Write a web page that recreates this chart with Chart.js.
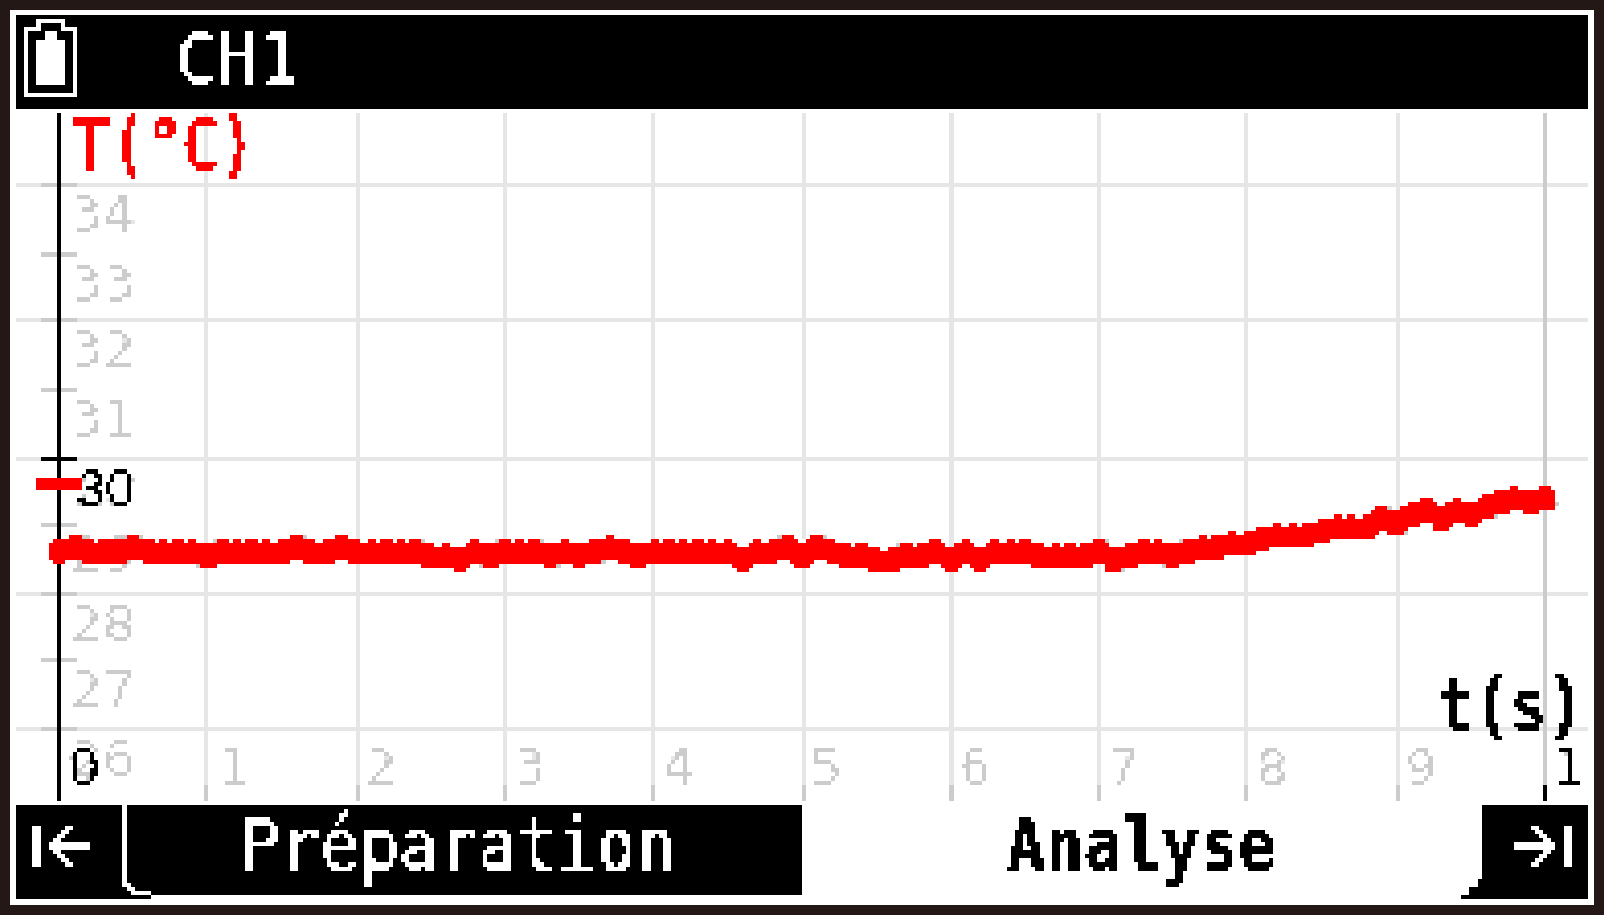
<!DOCTYPE html>
<html><head><meta charset="utf-8">
<style>
html,body{margin:0;padding:0;background:#231815;overflow:hidden;width:1604px;height:915px}
#frame{position:absolute;left:10px;top:10px;width:1584px;height:895px;background:#fff}
#c{position:absolute;left:16px;top:15px;transform-origin:0 0;transform:scale(4.094);image-rendering:pixelated}
</style>
<script src="https://cdn.jsdelivr.net/npm/chart.js@4"></script>
</head><body>
<div id="frame"></div>
<canvas id="c" width="384" height="216"></canvas>
<script>
const times=[0,0.1,0.2,0.3,0.4,0.5,0.6,0.7,0.8,0.9,1,1.1,1.2,1.3,1.4,1.5,1.6,1.7,1.8,1.9,2,2.1,2.2,2.3,2.4,2.5,2.6,2.7,2.8,2.9,3,3.1,3.2,3.3,3.4,3.5,3.6,3.7,3.8,3.9,4,4.1,4.2,4.3,4.4,4.5,4.6,4.7,4.8,4.9,5,5.1,5.2,5.3,5.4,5.5,5.6,5.7,5.8,5.9,6,6.1,6.2,6.3,6.4,6.5,6.6,6.7,6.8,6.9,7,7.1,7.2,7.3,7.4,7.5,7.6,7.7,7.8,7.9,8,8.1,8.2,8.3,8.4,8.5,8.6,8.7,8.8,8.9,9,9.1,9.2,9.3,9.4,9.5,9.6,9.7,9.8,9.9,10];
const temps=[28.61,28.67,28.61,28.61,28.61,28.67,28.61,28.61,28.61,28.61,28.55,28.61,28.61,28.61,28.61,28.61,28.67,28.61,28.61,28.67,28.61,28.61,28.61,28.61,28.61,28.55,28.55,28.49,28.61,28.55,28.61,28.61,28.61,28.55,28.61,28.55,28.61,28.67,28.61,28.55,28.61,28.61,28.61,28.61,28.61,28.61,28.49,28.61,28.61,28.67,28.55,28.67,28.61,28.55,28.55,28.49,28.49,28.55,28.55,28.61,28.49,28.61,28.49,28.61,28.61,28.61,28.55,28.55,28.55,28.55,28.61,28.49,28.55,28.61,28.61,28.55,28.61,28.67,28.67,28.73,28.73,28.79,28.85,28.85,28.85,28.91,28.97,28.97,28.97,29.09,29.03,29.15,29.21,29.09,29.21,29.15,29.27,29.33,29.39,29.33,29.39];
const xTickValues=[0,1,2,3,4,5,6,7,8,9,10];
const xTickLabels=['0','1','2','3','4','5','6','7','8','9','1'];
const yTickValues=[34,33,32,31,30,29,28,27,26];
const thresholdValue=29.63;
const yAxisTitle='T(°C)', xAxisTitle='t(s)', channelName='CH1', tabLeft='Préparation', tabRight='Analyse';

const MONO='"DejaVu Sans Mono"';
function px(ctx,color,rects){ctx.fillStyle=color;rects.forEach(r=>ctx.fillRect(r[0],r[1],r[2],r[3]));}
function pixelText(ctx,text,x,y,font,color,sx,cut){
  const o=document.createElement('canvas');o.width=384;o.height=216;
  const g=o.getContext('2d',{willReadFrequently:true});
  g.font=font;g.textBaseline='alphabetic';g.translate(x,y);g.scale(sx,1);g.fillStyle='#000';g.fillText(text,0,0);
  const d=g.getImageData(0,0,384,216),a=d.data;
  const h=color.replace('#','');const R=parseInt(h.slice(0,2),16),G=parseInt(h.slice(2,4),16),B=parseInt(h.slice(4,6),16);
  for(let i=0;i<a.length;i+=4){if(a[i+3]>=cut){a[i]=R;a[i+1]=G;a[i+2]=B;a[i+3]=255;}else a[i+3]=0;}
  g.setTransform(1,0,0,1,0,0);g.putImageData(d,0,0);
  ctx.drawImage(o,0,0);
}
function quantize(ctx,boxes){
  const d=ctx.getImageData(0,0,384,216),a=d.data;
  for(let i=0;i<a.length;i+=4){
    const r=a[i],g=a[i+1];let v;
    if(r-g>50){ if(g<130){a[i]=255;a[i+1]=0;a[i+2]=0;} else {a[i]=a[i+1]=a[i+2]=255;} a[i+3]=255;continue;}
    const X=(i/4)%384,Y=Math.floor(i/4/384);
    const inBox=boxes.some(b=>X>=b[0]&&X<b[0]+b[2]&&Y>=b[1]&&Y<b[1]+b[3]);
    if(g===0xe6)v=0xe6;
    else if(inBox)v=g<0x80?0:(g>=0xcc&&g<0xde?0xcc:255);
    else if(g<0x90)v=0; else if(g<0xde)v=0xcc; else v=255;
    a[i]=a[i+1]=a[i+2]=v;a[i+3]=255;
  }
  ctx.putImageData(d,0,0);
}
const screenPlugin={id:'screen',
  beforeDraw(chart){const c=chart.ctx;c.save();c.fillStyle='#fff';c.fillRect(0,0,384,216);c.restore();},
  afterDraw(chart){
    const c=chart.ctx,sx=chart.scales.x,sy=chart.scales.y;
    const p30=Math.round(sy.getPixelForValue(30));
    quantize(c,[[13,p30+2,18,12],[Math.round(sx.getPixelForValue(0))+2,sx.top-12,10,12],[Math.round(sx.getPixelForValue(10))+2,sx.top-12,10,12]]);
    c.save();
    const my=Math.round(sy.getPixelForValue(thresholdValue))-1;
    px(c,'#ff0000',[[5,my,11,3]]);
    px(c,'#000000',[[0,0,384,23]]);
    px(c,'#ffffff',[[2,3,1,17],[14,3,1,17],[2,19,13,1],[2,3,4,1],[11,3,4,1],[5,1,1,3],[11,1,1,3],[5,1,7,1],[5,6,7,11],[7,4,3,2]]);
    pixelText(c,channelName,39,17,'18px '+MONO,'#ffffff',0.93,80);
    pixelText(c,yAxisTitle,14,38,'18px '+MONO,'#ff0000',0.82,60);
    pixelText(c,xAxisTitle,347,175,'bold 17px '+MONO,'#000000',0.88,110);
    px(c,'#000000',[[0,193,192,22],[0,215,33,1],[358,193,26,23],[357,211,1,5],[355,213,2,3],[353,215,2,1]]);
    px(c,'#ffffff',[[26,193,1,19],[26,211,1,2],[27,212,1,2],[28,213,1,2],[29,214,2,1],[31,214,2,1]]);
    pixelText(c,tabLeft,55,209,'18px '+MONO,'#ffffff',0.89,90);
    pixelText(c,tabRight,242,209,'bold 18px '+MONO,'#000000',0.87,110);
    const arrowL=[[4,198,2,10],[8,202,10,2]],arrowR=[[378,198,2,10],[366,202,10,2]];
    for(let i=0;i<5;i++){
      arrowL.push([8+i,202-i,2,1],[8+i,203+i,2,1]);
      arrowR.push([374-i,202-i,2,1],[374-i,203+i,2,1]);
    }
    px(c,'#ffffff',arrowL.concat(arrowR));
    c.restore();
  }
};
const noPad=s=>{s.paddingLeft=s.paddingRight=s.paddingTop=s.paddingBottom=0;};
const yRange={min:25.167,max:35.082};
const monoTick={family:'DejaVu Sans Mono',size:13}, plainTick={family:'Liberation Sans',size:13};
new Chart(document.getElementById('c'),{
  type:'line',
  data:{datasets:[{data:times.map((t,i)=>({x:t,y:temps[i]})),xAxisID:'x',yAxisID:'y',borderColor:'#ff0000',backgroundColor:'#ff0000',borderWidth:3,pointRadius:2.9,pointStyle:'circle',pointBorderWidth:0,pointBackgroundColor:'#ff0000',tension:0,clip:false}]},
  options:{
    responsive:false,animation:false,devicePixelRatio:1,
    layout:{autoPadding:false,padding:{left:0,right:0,top:24,bottom:24}},
    plugins:{legend:{display:false},title:{display:false},tooltip:{enabled:false}},
    events:[],
    scales:{
      y:{type:'linear',position:{x:0.124},min:yRange.min,max:yRange.max,
        afterFit:s=>{s.width=0;noPad(s);},
        afterBuildTicks:s=>{s.ticks=yTickValues.map(v=>({value:v}));},
        border:{display:false},
        grid:{lineWidth:1,tickLength:9,drawTicks:true,
          color:c=>c.tick&&c.tick.value%2===0?'#e6e6e6':'rgba(0,0,0,0)',
          tickColor:c=>c.tick&&c.tick.value===30?'#000000':'#cccccc'},
        ticks:{display:false}
      },
      yLabels:{type:'linear',axis:'y',position:{x:0.51},min:yRange.min,max:yRange.max,
        afterFit:s=>{s.width=0;noPad(s);},
        afterBuildTicks:s=>{s.ticks=yTickValues.map(v=>({value:v}));},
        border:{display:false},
        grid:{display:false},
        ticks:{mirror:true,padding:0,labelOffset:8,autoSkip:false,includeBounds:false,
          font:c=>c.tick&&c.tick.value===30?plainTick:monoTick,
          color:c=>c.tick&&c.tick.value===30?'#000000':'#cccccc',callback:v=>String(v)}
      },
      x:{type:'linear',position:'bottom',min:-0.289,max:10.289,
        afterFit:s=>{s.height=4;noPad(s);},
        afterBuildTicks:s=>{s.ticks=xTickValues.map(v=>({value:v}));},
        border:{display:false},
        grid:{lineWidth:1,tickLength:4,
          color:c=>c.tick&&c.tick.value===0?'#000000':(c.tick&&c.tick.value===10?'#cccccc':'#e6e6e6'),
          tickColor:c=>c.tick&&(c.tick.value===0||c.tick.value===10)?'#000000':'#cccccc'},
        ticks:{mirror:true,padding:-4,labelOffset:6,autoSkip:false,maxRotation:0,includeBounds:false,
          font:c=>c.tick&&c.tick.value===0?plainTick:monoTick,
          color:c=>c.tick&&(c.tick.value===0||c.tick.value===10)?'#000000':'#cccccc',
          callback:v=>xTickLabels[xTickValues.indexOf(v)]}
      }
    }
  },
  plugins:[screenPlugin]
});
</script>
</body></html>
